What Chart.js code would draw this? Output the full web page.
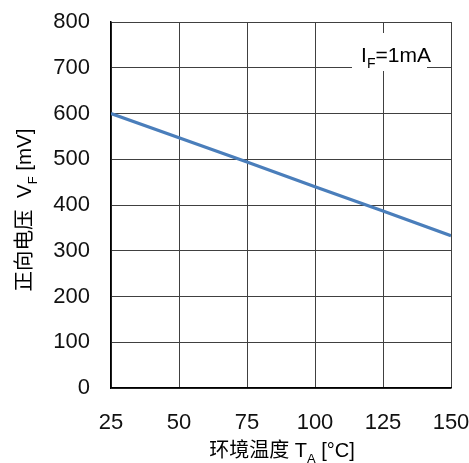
<!DOCTYPE html>
<html>
<head>
<meta charset="utf-8">
<script src="https://cdn.jsdelivr.net/npm/chart.js@4/dist/chart.umd.min.js"></script>
<style>
  html, body { margin: 0; padding: 0; background: #fff; }
  #wrap { width: 469px; height: 463px; position: relative; }
</style>
</head>
<body>
<div id="wrap"><canvas id="vfChart"></canvas></div>
<script>
// forward voltage vs ambient temperature, IF = 1mA
const temps  = [25, 50, 75, 100, 125, 150];
const vfMv   = [600, 547, 494, 440, 387, 333];
const xTicks = [25, 50, 75, 100, 125, 150];
const yTicks = [0, 100, 200, 300, 400, 500, 600, 700, 800];

const FONT = "'Liberation Sans', Arial, 'Noto Sans CJK SC', sans-serif";
const CJK  = "'Liberation Sans', 'Noto Sans CJK SC', sans-serif";

// draws a run of text pieces, some of them subscript
function drawRich(ctx, parts, size) {
  let w = 0;
  parts.forEach(p => {
    ctx.font = (p.sub ? Math.round(size * 0.65) : size) + 'px ' + CJK;
    p.w = ctx.measureText(p.t).width;
    w += p.w;
  });
  let x = -w / 2;
  parts.forEach(p => {
    ctx.font = (p.sub ? Math.round(size * 0.65) : size) + 'px ' + CJK;
    ctx.fillText(p.t, x, p.sub ? size * 0.28 : 0);
    x += p.w;
  });
  return w;
}

const labelsPlugin = {
  id: 'labels',
  afterDraw(chart) {
    const { ctx, chartArea: a } = chart;
    ctx.save();
    ctx.fillStyle = '#000';
    ctx.textBaseline = 'alphabetic';

    // x title
    ctx.save();
    ctx.translate((a.left + a.right) / 2 + 1, 457);
    drawRich(ctx, [{ t: '环境温度 T' }, { t: 'A', sub: true }, { t: ' [°C]' }], 20);
    ctx.restore();

    // y title
    ctx.save();
    ctx.translate(31, (a.top + a.bottom) / 2 + 5);
    ctx.rotate(-Math.PI / 2);
    drawRich(ctx, [{ t: '正向电压  V' }, { t: 'F', sub: true }, { t: ' [mV]' }], 20.5);
    ctx.restore();

    // condition label box
    const bx = a.right - 99, by = a.top + 11;
    ctx.fillStyle = '#fff';
    ctx.fillRect(bx, by, 75, 38);
    ctx.fillStyle = '#000';
    ctx.save();
    ctx.translate(bx + 44, by + 29);
    drawRich(ctx, [{ t: 'I' }, { t: 'F', sub: true }, { t: '=1mA' }], 21);
    ctx.restore();

    ctx.restore();
  },
};

function noPad(s) {
  s.paddingTop = 0; s.paddingBottom = 0; s.paddingLeft = 0; s.paddingRight = 0;
}

new Chart(document.getElementById('vfChart'), {
  type: 'line',
  data: {
    datasets: [{
      data: temps.map((t, i) => ({ x: t, y: vfMv[i] })),
      borderColor: '#4a7ebb',
      borderWidth: 3.2,
      pointRadius: 0,
      tension: 0,
      fill: false,
    }],
  },
  options: {
    responsive: true,
    maintainAspectRatio: false,
    animation: false,
    events: [],
    layout: { padding: { top: 22, right: 18, left: 0, bottom: 0 } },
    plugins: { legend: { display: false }, tooltip: { enabled: false } },
    scales: {
      x: {
        type: 'linear',
        min: 25,
        max: 150,
        afterBuildTicks: s => { s.ticks = xTicks.map(v => ({ value: v })); },
        afterFit: s => { s.height = 75; noPad(s); },
        grid: { color: '#404040', lineWidth: 1, drawTicks: false },
        border: { color: '#000', width: 1.5 },
        ticks: { color: '#111', padding: 22, font: { family: FONT, size: 22 } },
      },
      y: {
        min: 0,
        max: 800,
        afterBuildTicks: s => { s.ticks = yTicks.map(v => ({ value: v })); },
        afterFit: s => { s.width = 111; noPad(s); },
        grid: { color: '#404040', lineWidth: 1, drawTicks: false },
        border: { color: '#000', width: 1.5 },
        ticks: { color: '#111', padding: 21, font: { family: FONT, size: 22 } },
      },
    },
  },
  plugins: [labelsPlugin],
});
</script>
</body>
</html>
